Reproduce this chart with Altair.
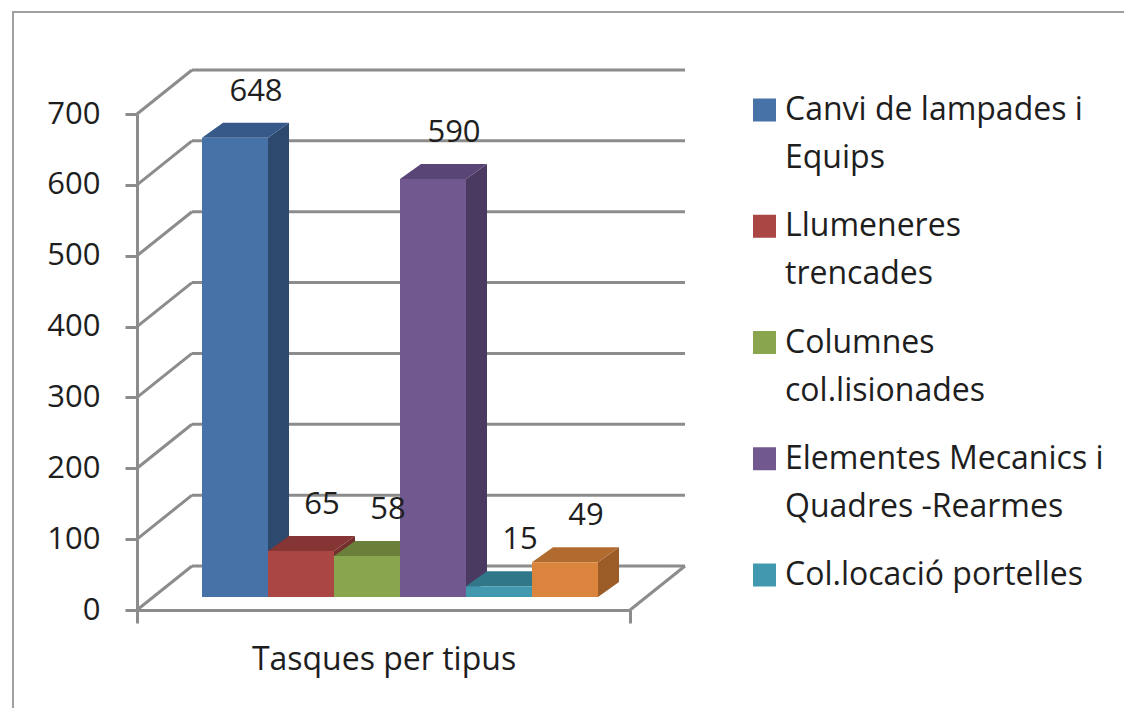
import altair as alt
import pandas as pd

# ---------------- data ----------------
categories = [
    "Canvi de lampades i Equips",
    "Llumeneres trencades",
    "Columnes col.lisionades",
    "Elementes Mecanics i Quadres -Rearmes",
    "Col.locació portelles",
    "Altres",
]
values = [648, 65, 58, 590, 15, 49]
legend_labels = [
    "Canvi de lampades i\nEquips",
    "Llumeneres\ntrencades",
    "Columnes\ncol.lisionades",
    "Elementes Mecanics i\nQuadres -Rearmes",
    "Col.locació portelles",
]
y_ticks = [0, 100, 200, 300, 400, 500, 600, 700]
x_title = "Tasques per tipus"

# ---------------- style ----------------
front_colors = ["#4672A8", "#AA4643", "#89A54E", "#71588F", "#4198AF", "#DB843D"]
top_colors = ["#37598A", "#853533", "#6A803A", "#5A4676", "#30778A", "#B26B2F"]
side_colors = ["#2D4A6E", "#74302D", "#5A6E31", "#4A3A62", "#2A6676", "#9C5C28"]
GRID = "#8C8C8C"
TEXT = "#1E1E1E"
FONT = "Open Sans"
FS = 31      # numbers
FS_TXT = 32  # legend / title

# geometry (pixels) of the pseudo-3D frame
W, H = 493, 496
BAR_PX = 66
XMAX = W / BAR_PX
X0 = 65 / BAR_PX
DX = 21 / BAR_PX
DV = 15 * 700 / H
BASE_OFF = -13
WALL_DX, WALL_DY = 55, -44

df = pd.DataFrame({"cat": categories, "value": values, "idx": list(range(len(values)))})
ticks_df = pd.DataFrame({"tick": y_ticks})
leg_df = pd.DataFrame({"cat": categories[:5], "label": legend_labels, "row": list(range(5))})

xscale = alt.Scale(domain=[0, XMAX], nice=False, zero=False)
yscale = alt.Scale(domain=[0, 700], nice=False)

x_axis = alt.Axis(
    values=[0, XMAX], labels=False, tickSize=13, tickWidth=3, tickColor=GRID,
    domainColor=GRID, domainWidth=3, grid=False, title=x_title,
    titleFont=FONT, titleFontSize=FS_TXT, titleFontWeight="normal", titleColor=TEXT,
    titlePadding=20,
)
y_axis = alt.Axis(
    values=y_ticks, tickSize=12, tickWidth=3, tickColor=GRID,
    domainColor=GRID, domainWidth=3, grid=False, title=None,
    labelFont=FONT, labelFontSize=FS, labelColor=TEXT, labelPadding=25,
)


def X(field):
    return alt.X(field, scale=xscale, axis=x_axis, title=x_title)


def Y(field):
    return alt.Y(field, scale=yscale, axis=y_axis, title=None)


base = alt.Chart(df).transform_calculate(
    xl=f"{X0} + datum.idx", xr=f"{X0} + datum.idx + 1"
)
folded = base.transform_calculate(t0="0", t1="1").transform_fold(
    ["t0", "t1"], as_=["k", "t"]
)

# walls / gridlines
grid_diag = alt.Chart(ticks_df).mark_rule(color=GRID, strokeWidth=3, y2Offset=WALL_DY).encode(
    x=alt.value(0), x2=alt.value(WALL_DX), y=Y("tick:Q"), y2="tick:Q",
)
grid_back = alt.Chart(ticks_df).mark_rule(color=GRID, strokeWidth=3, yOffset=WALL_DY).encode(
    x=alt.value(WALL_DX), x2=alt.value(W + WALL_DX), y=Y("tick:Q"),
)
floor_edge = alt.Chart(ticks_df).transform_filter("datum.tick == 0").mark_rule(
    color=GRID, strokeWidth=3, y2Offset=WALL_DY
).encode(
    x=alt.value(W), x2=alt.value(W + WALL_DX), y=Y("tick:Q"), y2="tick:Q",
)

# border of chart area
border_left = alt.Chart(ticks_df).transform_filter("datum.tick == 0").mark_rule(
    color="#A0A0A0", strokeWidth=2
).encode(x=alt.value(-124), y=alt.value(-102), y2=alt.value(600))
border_top = alt.Chart(ticks_df).transform_filter("datum.tick == 0").mark_rule(
    color="#A0A0A0", strokeWidth=2
).encode(x=alt.value(-125), x2=alt.value(1000), y=alt.value(-102))

# bar faces
side = folded.transform_calculate(
    sx=f"datum.xr + datum.t * {DX}",
    sy=f"datum.value + datum.t * {DV}",
    sy2=f"datum.t * {DV}",
).mark_area(orient="vertical", yOffset=BASE_OFF, y2Offset=BASE_OFF).encode(
    x=X("sx:Q"), y=Y("sy:Q"), y2="sy2:Q", detail="cat:N",
    color=alt.Color("cat:N", scale=alt.Scale(domain=categories, range=side_colors), legend=None),
)
top = folded.transform_calculate(
    tx=f"datum.xl + datum.t * {DX}",
    tx2=f"datum.xr + datum.t * {DX}",
    ty=f"datum.value + datum.t * {DV}",
).mark_area(orient="horizontal", yOffset=BASE_OFF).encode(
    y=Y("ty:Q"), x=X("tx:Q"), x2="tx2:Q", detail="cat:N",
    color=alt.Color("cat:N", scale=alt.Scale(domain=categories, range=top_colors), legend=None),
)
front = base.mark_rect(yOffset=BASE_OFF, y2Offset=BASE_OFF).encode(
    x=X("xl:Q"), x2="xr:Q", y=Y("value:Q"), y2=alt.datum(0),
    color=alt.Color("cat:N", scale=alt.Scale(domain=categories, range=front_colors), legend=None),
)
labels = base.transform_calculate(
    lx=f"datum.xl + 0.5 + {DX}", ly=f"datum.value + {DV}"
).mark_text(yOffset=BASE_OFF - 31, fontSize=FS, font=FONT, color=TEXT).encode(
    x=X("lx:Q"), y=Y("ly:Q"), text="value:Q",
)

main = alt.layer(
    border_left, border_top, grid_diag, grid_back, floor_edge, side, top, front, labels
).resolve_scale(color="independent")

# legend
row_scale = alt.Scale(domain=[0, 4], range=[-4, 461])
leg_sq = alt.Chart(leg_df).mark_square(size=529, opacity=1).encode(
    x=alt.value(627.5),
    y=alt.Y("row:Q", scale=row_scale, axis=None),
    color=alt.Color("cat:N", scale=alt.Scale(domain=categories[:5], range=front_colors[:5]), legend=None),
)
leg_tx = alt.Chart(leg_df).mark_text(
    align="left", baseline="middle", lineBreak="\n", lineHeight=48,
    fontSize=FS_TXT, font=FONT, color=TEXT,
).encode(
    x=alt.value(648),
    y=alt.Y("row:Q", scale=row_scale, axis=None),
    text="label:N",
)
legend = alt.layer(leg_sq, leg_tx)

chart = alt.layer(main, legend).resolve_scale(y="independent", color="independent").properties(
    width=W, height=H,
    autosize=alt.AutoSizeParams(type="none"),
    padding={"left": 129, "top": 106, "right": 494, "bottom": 98},
    background="white",
).configure_view(stroke=None)

chart.save("out.html", embed_options={"renderer": "svg", "actions": False})
